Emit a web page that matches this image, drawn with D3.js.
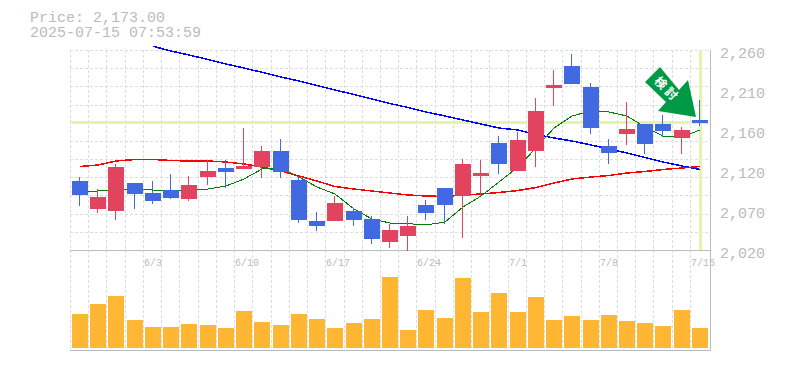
<!DOCTYPE html>
<html>
<head>
<meta charset="utf-8">
<script src="https://cdn.jsdelivr.net/npm/d3@7"></script>
<style>
  html, body { margin: 0; background: #fff; }
  text { font-family: "Liberation Mono", monospace; fill: #bbb; }
</style>
</head>
<body>
<svg width="785" height="370"></svg>
<script>
const title = ['Price: 2,173.00', '2025-07-15 07:53:59'];

const open = [2103,2069,2067,2100,2088,2092,2081,2108,2118,2117,2120,2139,2104,2055,2055,2067,2057,2030,2037,2074,2094,2085,2109,2148,2115,2139,2214,2241,2216,2145,2159,2171,2171,2154,2176];
const high = [2108,2093,2123,2100,2103,2111,2109,2128,2128,2166,2145,2153,2109,2066,2085,2070,2061,2051,2061,2080,2094,2129,2128,2157,2162,2202,2236,2255,2220,2153,2198,2171,2182,2168,2200];
const low = [2073,2064,2056,2069,2075,2081,2079,2098,2094,2117,2106,2106,2052,2043,2055,2049,2027,2022,2019,2056,2051,2034,2085,2111,2115,2120,2193,2219,2159,2123,2146,2135,2156,2135,2169];
const close = [2086,2084,2120,2087,2079,2082,2098,2115,2114,2121,2139,2114,2056,2049,2076,2056,2033,2044,2049,2064,2074,2123,2112,2123,2152,2187,2218,2219,2166,2136,2165,2147,2163,2164,2173];

const volume = [34,44,52,28,21,21,24,23,20,37,26,23,34,29,20,25,29,71,18,38,30,70,36,55,36,51,28,32,28,33,27,25,22,38,20];

const ma5 = [2090.2,2090.8,2092.6,2093.2,2092,2091.2,2092,2093.2,2096.8,2105.2,2117.2,2118.4,2107.6,2095.6,2087.2,2069.2,2057.2,2052.4,2051.6,2050,2053.6,2071.6,2084.8,2101.6,2119.6,2142.4,2166.4,2180.8,2186.8,2185.6,2180.8,2167.6,2156.8,2155.6,2164];
const ma25 = [2120.2,2122,2126.8,2128.6,2128.6,2127.4,2126.8,2126.8,2125.6,2123.2,2119.6,2114.8,2108.8,2102.8,2096.2,2093.2,2090.8,2088.4,2086,2084.8,2084.2,2086,2087.2,2089,2091.4,2095,2100.4,2105.2,2107.6,2109.4,2112.4,2114.2,2116.6,2118.4,2120.2];
const ma75 = [null,null,null,null,2264.4,2258.8,2254,2248.6,2243.2,2238.4,2233.2,2227.6,2222.8,2217.4,2212,2206.6,2201.2,2195.8,2191,2185.6,2180.8,2176,2171.2,2166.4,2164,2158.6,2154.4,2150.8,2146,2141.2,2136.4,2131,2125.6,2120.8,2116.6];

const priceTicks = [2260, 2212, 2164, 2116, 2068, 2020];
const priceLabels = ['2,260', '2,210', '2,160', '2,120', '2,070', '2,020'];
const dateLabels = [[4, '6/3'], [9, '6/10'], [14, '6/17'], [19, '6/24'], [24, '7/1'], [29, '7/8'], [34, '7/15']];
const lastPrice = 2173;
const signalText = '検討';

const svg = d3.select('svg');
const days = d3.range(open.length);

const x = d3.scaleBand().domain(days).range([70, 708.2]);
const y = d3.scaleLinear().domain([2020, 2260]).range([250, 50]);
const yVol = d3.scaleLinear().domain([0, 100]).range([348, 248]);

// 整数ピクセルに揃える
const left = i => Math.round(x(i));
const mid = i => left(i) + 10;
const py = v => Math.round(y(v));

// grid
const grid = svg.append('g')
  .attr('stroke', '#ddd')
  .attr('stroke-dasharray', '3,2')
  .attr('shape-rendering', 'crispEdges');

grid.selectAll('.h').data(d3.range(12)).enter().append('line')
  .attr('x1', 70).attr('x2', 710)
  .attr('y1', i => Math.round(250 - i * 200 / 11) + 0.5)
  .attr('y2', i => Math.round(250 - i * 200 / 11) + 0.5);

grid.selectAll('.v').data(days).enter().append('line')
  .attr('x1', i => left(i) + 0.5).attr('x2', i => left(i) + 0.5)
  .attr('y1', 50).attr('y2', 350);

// 現在値の線
svg.append('rect')
  .attr('x', 70).attr('width', 638)
  .attr('y', py(lastPrice) - 2).attr('height', 3)
  .attr('fill', '#e3f5a8');
svg.append('rect')
  .attr('x', mid(34) - 1).attr('width', 3)
  .attr('y', 50).attr('height', 200)
  .attr('fill', '#e3f5a8');

// frame
const frame = svg.append('g')
  .attr('stroke', '#bbb')
  .attr('shape-rendering', 'crispEdges');
frame.append('line').attr('x1', 70).attr('x2', 711).attr('y1', 250.5).attr('y2', 250.5);
frame.append('line').attr('x1', 70).attr('x2', 711).attr('y1', 350.5).attr('y2', 350.5);
frame.append('line').attr('x1', 710.5).attr('x2', 710.5).attr('y1', 50).attr('y2', 351);

// volume
svg.append('g').selectAll('rect').data(days).enter().append('rect')
  .attr('x', i => left(i) + 2)
  .attr('width', 16)
  .attr('y', i => Math.round(yVol(volume[i])))
  .attr('height', i => 348 - Math.round(yVol(volume[i])))
  .attr('fill', '#ffb733');

// moving averages
const lineOf = d3.line()
  .defined(d => d[1] !== null)
  .x(d => mid(d[0]))
  .y(d => y(d[1]));

const drawLine = (values, color, w) => svg.append('path')
  .attr('d', lineOf(values.map((v, i) => [i, v])))
  .attr('fill', 'none')
  .attr('stroke', color)
  .attr('stroke-width', w)
  .attr('shape-rendering', 'crispEdges');

drawLine(ma75, '#0000ff', 1.5);
drawLine(ma25, '#ff0000', 1.5);
drawLine(ma5, '#008000', 1);

// candles
const candle = svg.append('g')
  .attr('shape-rendering', 'crispEdges')
  .selectAll('g').data(days).enter().append('g')
  .attr('fill', i => close[i] > open[i] ? '#e2445f' : '#4169e1');

candle.append('rect')
  .attr('x', i => mid(i) - 1).attr('width', 1)
  .attr('y', i => py(high[i]))
  .attr('height', i => py(low[i]) - py(high[i]));

candle.append('rect')
  .attr('x', i => left(i) + 2).attr('width', 16)
  .attr('y', i => py(Math.max(open[i], close[i])))
  .attr('height', i => py(Math.min(open[i], close[i])) - py(Math.max(open[i], close[i])));

// signal arrow
const arrow = svg.append('g')
  .attr('transform', `translate(${mid(34) - 4}, ${py(lastPrice) - 6})`);
arrow.append('path')
  .attr('d', 'M-36,-50 L-51,-35 L-30,-15 L-38,-6 L0,0 L-8,-37 L-17,-27 Z')
  .attr('fill', '#009944');
arrow.append('text')
  .attr('transform', 'translate(-29,-27.5) rotate(45)')
  .attr('text-anchor', 'middle')
  .attr('dy', '0.35em')
  .style('font-family', '"Noto Sans CJK JP"')
  .style('font-size', '12px')
  .style('font-weight', 'bold')
  .style('letter-spacing', '3px')
  .style('fill', '#fff')
  .text(signalText);

// labels
svg.append('text')
  .style('font-size', '15px')
  .selectAll('tspan').data(title).enter().append('tspan')
  .attr('x', 30)
  .attr('y', (d, i) => 22 + i * 15)
  .text(d => d);

svg.append('g').selectAll('text').data(priceTicks).enter().append('text')
  .attr('x', 720)
  .attr('y', d => y(d) + 8)
  .style('font-size', '15px')
  .text((d, i) => priceLabels[i]);

svg.append('g').selectAll('text').data(dateLabels).enter().append('text')
  .attr('x', d => left(d[0]) + 1)
  .attr('y', 266)
  .style('font-size', '10px')
  .text(d => d[1]);
</script>
</body>
</html>
